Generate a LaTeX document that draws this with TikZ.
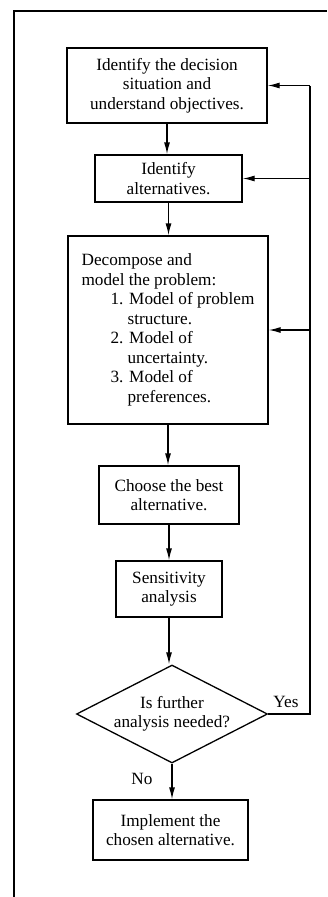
\documentclass[tikz,border=0pt]{standalone}
\usepackage{fontspec}
\setmainfont{Liberation Serif}
\usetikzlibrary{arrows.meta,shapes.geometric}
\begin{document}
\begin{tikzpicture}[x=1pt,y=-1pt,
  every node/.style={font=\fontsize{17.2}{19.5}\selectfont},
  stepbox/.style={draw,line width=1.3pt,inner sep=0pt,align=center},
  decision/.style={draw,diamond,aspect=1.95,line width=1.3pt,inner sep=0pt,align=center},
  flow/.style={line width=1.3pt,-{Latex[length=12pt,width=6pt]}},
  feed/.style={line width=1.3pt},
  frame/.style={line width=1.4pt},
  lbl/.style={inner sep=0pt}]
\useasboundingbox (0,0) rectangle (327,897);

% page frame (left and top rules)
\draw[frame] (14,897) -- (14,11) -- (327,11);

% process steps
\node[stepbox,minimum width=200pt,minimum height=75pt] (ident) at (167,85.5)
  {Identify the decision\\situation and\\understand objectives.};
\node[stepbox,minimum width=147pt,minimum height=47pt] (alts) at (168.5,178.5)
  {Identify\\alternatives.};
\node[stepbox,minimum width=200pt,minimum height=188pt,align=left] (model) at (168,330)
  {Decompose and\\
   model the problem:\\
   \hspace*{29pt}1. Model of problem\\
   \hspace*{46pt}structure.\\
   \hspace*{29pt}2. Model of\\
   \hspace*{46pt}uncertainty.\\
   \hspace*{29pt}3. Model of\\
   \hspace*{46pt}preferences.};
\node[stepbox,minimum width=140pt,minimum height=58pt] (choose) at (169,495)
  {Choose the best\\alternative.};
\node[stepbox,minimum width=106pt,minimum height=56pt] (sens) at (169,589)
  {Sensitivity\\analysis};
\node[decision,minimum width=191pt,minimum height=98pt] (ask) at (172,714)
  {Is further\\analysis needed?};
\node[stepbox,minimum width=155pt,minimum height=60pt] (impl) at (170.5,830)
  {Implement the\\chosen alternative.};

% main flow
\draw[flow] (ident.south) -- (ident.south |- alts.north);
\draw[flow] (alts.south) -- (alts.south |- model.north);
\draw[flow] (model.south) -- (model.south |- choose.north);
\draw[flow] (choose.south) -- (choose.south |- sens.north);
\draw[flow] (sens.south) -- (sens.south |- ask.north);
\draw[flow] (ask.south) -- (ask.south |- impl.north);

% feedback loop
\coordinate (loop) at (310,85.5);
\draw[feed] (ask.east) -- (ask.east -| loop) -- (loop);
\draw[flow] (loop) -- (ident.east);
\draw[flow] (loop |- alts.east) -- (alts.east);
\draw[flow] (loop |- model.east) -- (model.east);

% branch labels
\node[lbl] (yes) at (286,702) {Yes};
\node[lbl] (no) at (142,779) {No};
\end{tikzpicture}
\end{document}
